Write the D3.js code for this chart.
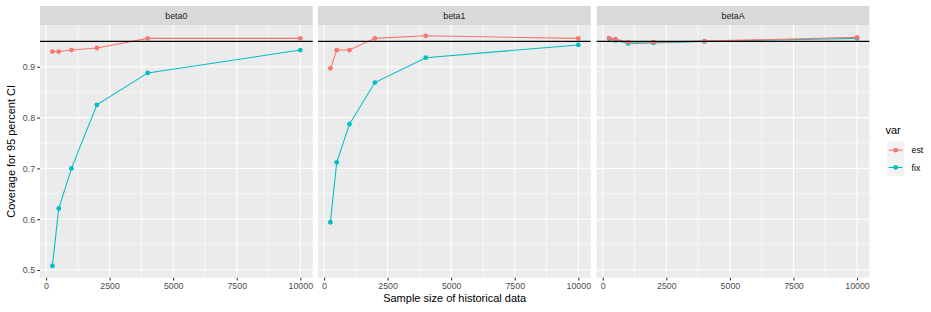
<!DOCTYPE html>
<html>
<head>
<meta charset="utf-8">
<script src="https://cdn.jsdelivr.net/npm/d3@7"></script>
<style>
  body { margin: 0; background: #fff; }
  svg { font-family: "Liberation Sans", Arial, Helvetica, sans-serif; }
</style>
</head>
<body>
<div id="main"></div>
<script>
// coverage data
const sizes = [250, 500, 1000, 2000, 4000, 10000]
const params = ['beta0', 'beta1', 'betaA']
const vars = ['est', 'fix']
const est_beta0 = [0.930, 0.930, 0.933, 0.937, 0.956, 0.956]
const fix_beta0 = [0.508, 0.621, 0.700, 0.825, 0.888, 0.933]
const est_beta1 = [0.897, 0.933, 0.933, 0.956, 0.961, 0.956]
const fix_beta1 = [0.594, 0.712, 0.787, 0.869, 0.918, 0.943]
const est_betaA = [0.9565, 0.9545, 0.9486, 0.9486, 0.9506, 0.958]
const fix_betaA = [0.955, 0.952, 0.946, 0.947, 0.950, 0.956]
const yTicks = [0.5, 0.6, 0.7, 0.8, 0.9]
const xTicks = [0, 2500, 5000, 7500, 10000]
const refLine = 0.95

const series = {
  beta0: { est: est_beta0, fix: fix_beta0 },
  beta1: { est: est_beta1, fix: fix_beta1 },
  betaA: { est: est_betaA, fix: fix_betaA }
}
const colors = { est: '#F8766D', fix: '#00BFC4' }

const W = 931, H = 312
const panelLefts = [40, 318, 596.7]
const panelW = 272.7
const pTop = 25, pBottom = 277.7, stripTop = 6

const svg = d3.select('#main').append('svg').attr('width', W).attr('height', H)

// ggplot-style expanded scales
const xs = d3.scaleLinear().domain([250 - 487.5, 10000 + 487.5])
const y = d3.scaleLinear().domain([0.4848, 0.9823]).range([pBottom, pTop])

params.forEach(function (p, i) {
  const x0 = panelLefts[i]
  const x = xs.copy().range([x0, x0 + panelW])
  const g = svg.append('g').attr('class', 'panel')

  g.append('rect').attr('x', x0).attr('y', pTop).attr('width', panelW).attr('height', pBottom - pTop).attr('fill', '#EBEBEB')

  // minor grid
  const yMinor = [0.55, 0.65, 0.75, 0.85, 0.95]
  const xMinor = [1250, 3750, 6250, 8750]
  g.selectAll('.ymin').data(yMinor).enter().append('line')
    .attr('x1', x0).attr('x2', x0 + panelW).attr('y1', d => y(d)).attr('y2', d => y(d))
    .attr('stroke', '#fff').attr('stroke-width', 0.55)
  g.selectAll('.xmin').data(xMinor).enter().append('line')
    .attr('y1', pTop).attr('y2', pBottom).attr('x1', d => x(d)).attr('x2', d => x(d))
    .attr('stroke', '#fff').attr('stroke-width', 0.55)
  // major grid
  g.selectAll('.ymaj').data(yTicks).enter().append('line')
    .attr('x1', x0).attr('x2', x0 + panelW).attr('y1', d => y(d)).attr('y2', d => y(d))
    .attr('stroke', '#fff').attr('stroke-width', 1.1)
  g.selectAll('.xmaj').data(xTicks).enter().append('line')
    .attr('y1', pTop).attr('y2', pBottom).attr('x1', d => x(d)).attr('x2', d => x(d))
    .attr('stroke', '#fff').attr('stroke-width', 1.1)

  // strip
  g.append('rect').attr('x', x0).attr('y', stripTop).attr('width', panelW).attr('height', pTop - stripTop).attr('fill', '#D9D9D9')
  g.append('text').attr('x', x0 + panelW / 2).attr('y', (stripTop + pTop) / 2).attr('dy', '0.35em')
    .attr('text-anchor', 'middle').attr('font-size', 8.8).attr('fill', '#1A1A1A').text(p)

  // series: fix underneath, est on top
  const line = d3.line().x((d, k) => x(sizes[k])).y(d => y(d))
  vars.slice().reverse().forEach(function (v) {
    const vals = series[p][v]
    g.append('path').attr('d', line(vals)).attr('fill', 'none').attr('stroke', colors[v]).attr('stroke-width', 1.07)
    g.selectAll('.pt-' + v).data(vals).enter().append('circle')
      .attr('cx', (d, k) => x(sizes[k])).attr('cy', d => y(d)).attr('r', 2.4).attr('fill', colors[v])
  })

  // reference line
  g.append('line').attr('x1', x0).attr('x2', x0 + panelW).attr('y1', y(refLine)).attr('y2', y(refLine))
    .attr('stroke', '#000').attr('stroke-width', 1.07)

  // x axis
  const xa = g.append('g').attr('transform', 'translate(0,' + pBottom + ')')
    .call(d3.axisBottom(x).tickValues(xTicks).tickSize(2.75).tickPadding(2.2).tickFormat(d3.format('d')))
  xa.select('.domain').remove()
  xa.selectAll('line').attr('stroke', '#333').attr('stroke-width', 1.07)
  xa.selectAll('text').attr('font-size', 8.8).attr('fill', '#4D4D4D').attr('font-family', null)
})

// y axis
const ya = svg.append('g').attr('transform', 'translate(' + panelLefts[0] + ',0)')
  .call(d3.axisLeft(y).tickValues(yTicks).tickSize(2.75).tickPadding(2.2).tickFormat(d3.format('.1f')))
ya.select('.domain').remove()
ya.selectAll('line').attr('stroke', '#333').attr('stroke-width', 1.07)
ya.selectAll('text').attr('font-size', 8.8).attr('fill', '#4D4D4D').attr('font-family', null)

// axis titles
svg.append('text').attr('x', (panelLefts[0] + panelLefts[2] + panelW) / 2).attr('y', 302)
  .attr('text-anchor', 'middle').attr('font-size', 11).attr('fill', '#000').text('Sample size of historical data')
svg.append('text').attr('transform', 'translate(15,' + ((pTop + pBottom) / 2) + ') rotate(-90)')
  .attr('text-anchor', 'middle').attr('font-size', 11).attr('fill', '#000').text('Coverage for 95 percent CI')

// legend
const lg = svg.append('g').attr('transform', 'translate(887,124)')
lg.append('text').attr('x', -1.5).attr('y', 10).attr('font-size', 11).attr('fill', '#000').text('var')
vars.forEach(function (v, k) {
  const ky = 17.5 + k * 17.3
  lg.append('rect').attr('x', 0).attr('y', ky).attr('width', 17.3).attr('height', 17.3).attr('fill', '#F2F2F2')
  lg.append('line').attr('x1', 1.7).attr('x2', 15.6).attr('y1', ky + 8.65).attr('y2', ky + 8.65)
    .attr('stroke', colors[v]).attr('stroke-width', 1.07)
  lg.append('circle').attr('cx', 8.65).attr('cy', ky + 8.65).attr('r', 2.4).attr('fill', colors[v])
  lg.append('text').attr('x', 24.5).attr('y', ky + 8.65).attr('dy', '0.35em').attr('font-size', 8.8).attr('fill', '#000').text(v)
})
</script>
</body>
</html>
